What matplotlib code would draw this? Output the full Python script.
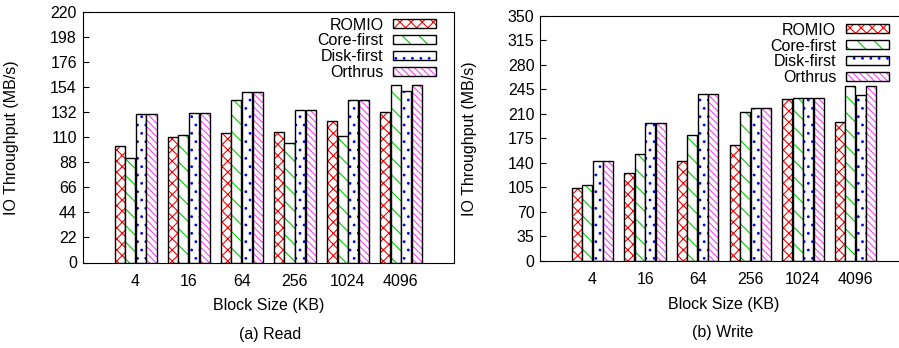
import numpy as np
import matplotlib.pyplot as plt
from matplotlib.patches import Patch

plt.rcParams['font.family'] = ['Liberation Sans', 'DejaVu Sans']
plt.rcParams['font.size'] = 11.5
plt.rcParams['hatch.linewidth'] = 0.8

block_sizes = ['4', '16', '64', '256', '1024', '4096']
series = ['ROMIO', 'Core-first', 'Disk-first', 'Orthrus']

read_romio = [102, 110, 114, 115, 124, 132]
read_core = [92, 112, 143, 105, 111, 156]
read_disk = [130, 131, 150, 134, 143, 151]
read_orthrus = [130, 131, 150, 134, 143, 156]

write_romio = [104, 125, 143, 166, 231, 199]
write_core = [109, 152, 180, 212, 232, 250]
write_disk = [142, 197, 238, 218, 233, 237]
write_orthrus = [142, 197, 238, 218, 233, 250]

colors = ['#ff0000', '#00cc00', '#0000ff', '#ff44ff']
hatches = ['xxx', '\\\\', '..', '\\\\\\\\\\']

fig = plt.figure(figsize=(8.99, 3.48), dpi=100)
W, H = 899, 348


def draw(ax, data, ymax, step, anchor):
    x = np.arange(len(block_sizes))
    width = 0.19
    offsets = [-0.3, -0.1, 0.1, 0.3]
    for vals, c, h, off in zip(data, colors, hatches, offsets):
        ax.bar(x + off, vals, width, color='white', edgecolor=c, hatch=h, linewidth=0)
        ax.bar(x + off, vals, width, fill=False, edgecolor='black', linewidth=1.0)
    ax.set_xlim(-1, 6)
    ax.set_ylim(0, ymax)
    ax.set_yticks(np.arange(0, ymax + 1, step))
    ax.set_xticks(x)
    ax.set_xticklabels(block_sizes)
    ax.tick_params(axis='y', direction='in', length=4, pad=4)
    ax.tick_params(axis='x', length=0, pad=8)
    ax.set_xlabel('Block Size (KB)', labelpad=7)
    ax.set_ylabel('IO Throughput (MB/s)')
    handles = []
    for c, h in zip(colors, hatches):
        p1 = Patch(facecolor='white', edgecolor=c, hatch=h, linewidth=0)
        p2 = Patch(fill=False, edgecolor='black', linewidth=1.0)
        handles.append((p1, p2))
    ax.legend(handles, series, loc='upper right', bbox_to_anchor=anchor,
              frameon=False, markerfirst=False, borderpad=0, borderaxespad=0,
              handlelength=2.7, handleheight=0.5, handletextpad=0.6,
              labelspacing=0.06, fontsize=11.5)


ax1 = fig.add_axes([82.5 / W, (H - 262.5) / H, (454 - 82.5) / W, (262.5 - 12) / H])
draw(ax1, [read_romio, read_core, read_disk, read_orthrus], 220, 22, (0.952, 0.978))
ax1.yaxis.set_label_coords(-(82.5 - 19) / 371.5, 0.5)

ax2 = fig.add_axes([540 / W, (H - 261) / H, (908 - 540) / W, (261 - 15.7) / H])
draw(ax2, [write_romio, write_core, write_disk, write_orthrus], 350, 35, (0.948, 0.972))
ax2.yaxis.set_label_coords(-(540 - 477) / 368, 0.5)

fig.text(270 / W, 1 - 335 / H, '(a) Read', ha='center', va='center')
fig.text(723 / W, 1 - 333 / H, '(b) Write', ha='center', va='center')

fig.savefig('out.png', dpi=100)
